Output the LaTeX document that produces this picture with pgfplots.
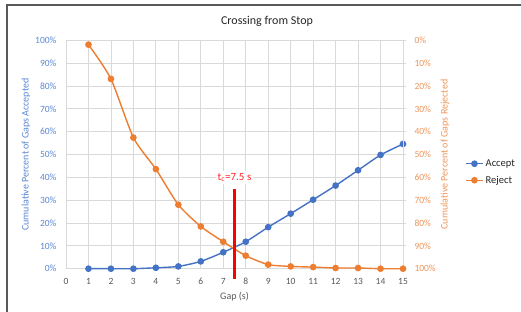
\documentclass[border=0pt]{standalone}
\usepackage{fontspec}
\setmainfont{Carlito}
\usepackage{pgfplots}
\pgfplotsset{compat=1.18}
\definecolor{accB}{HTML}{4472C4}
\definecolor{rejO}{HTML}{ED7D31}
\definecolor{tickB}{HTML}{5B88D4}
\definecolor{tickO}{HTML}{F0955A}
\definecolor{gridG}{HTML}{D9D9D9}
\definecolor{txtG}{HTML}{595959}
\begin{document}
\begin{tikzpicture}
\useasboundingbox (0pt,0pt) rectangle (521pt,312pt);
\fill[white] (0pt,0pt) rectangle (521pt,312pt);
\draw[line width=1.2pt, black!65] (7pt,-5pt) rectangle (530pt,307pt);
\node[font=\fontsize{12}{14}\selectfont, text=black!85] at (267pt,291pt) {Crossing from Stop};
\begin{axis}[
  at={(66pt,43.3pt)}, anchor=south west,
  scale only axis, width=337pt, height=228.4pt,
  xmin=0, xmax=15, ymin=0, ymax=100,
  xtick={0,1,...,15}, ytick={0,10,...,100},
  yticklabels={0\%,10\%,20\%,30\%,40\%,50\%,60\%,70\%,80\%,90\%,100\%},
  /pgf/number format/assume math mode=true,
  grid=major, major grid style={gridG, line width=0.8pt},
  axis line style={draw=none},
  tick style={draw=none},
  axis y line*=left,
  axis x line*=bottom,
  x tick label style={font=\fontsize{9.5}{11}\selectfont, text=txtG, anchor=center, yshift=-13pt},
  y tick label style={font=\fontsize{9.5}{11}\selectfont, text=tickB, anchor=east, xshift=-6pt},
  xlabel={Gap (s)}, xlabel style={font=\fontsize{10}{12}\selectfont, text=txtG, at={(rel axis cs:0.5,0)}, anchor=center, yshift=-28pt},
  ylabel={Cumulative Percent of Gaps Accepted},
  ylabel style={font=\fontsize{10}{12}\selectfont, text=tickB, at={(rel axis cs:0,0.5)}, anchor=center, yshift=40pt},
  clip=false,
]
\addplot[accB, line width=1.4pt, smooth, tension=0.4, mark=*, mark size=2.6pt, mark options={fill=accB, draw=accB}]
coordinates {(1,0) (2,0) (3,0) (4,0.4) (5,1.0) (6,3.2) (7,7.2) (8,11.8) (9,18.2) (10,24.1) (11,30.2) (12,36.4) (13,43.1) (14,49.8) (15,54.6)};
\end{axis}
\begin{axis}[
  at={(66pt,43.3pt)}, anchor=south west,
  scale only axis, width=337pt, height=228.4pt,
  xmin=0, xmax=15, ymin=0, ymax=100,
  y dir=reverse,
  axis x line=none,
  axis y line*=right,
  axis line style={draw=gridG, line width=0.8pt},
  ytick={0,10,...,100},
  yticklabels={0\%,10\%,20\%,30\%,40\%,50\%,60\%,70\%,80\%,90\%,100\%},
  /pgf/number format/assume math mode=true,
  tick align=outside, major tick length=3pt,
  tick style={gridG, line width=0.8pt},
  y tick label style={font=\fontsize{9.5}{11}\selectfont, text=tickO, anchor=west, xshift=5pt},
  ylabel={Cumulative Percent of Gaps Rejected},
  ylabel style={font=\fontsize{10}{12}\selectfont, text=tickO, at={(rel axis cs:1,0.5)}, anchor=center, yshift=-42pt},
  clip=false,
  legend style={at={(1.184,0.423)}, anchor=west, draw=none, fill=none,
    font=\fontsize{10.5}{12}\selectfont, text=black!85, row sep=4pt,
    inner sep=0pt},
  legend cell align=left,
]
\addlegendimage{accB, line width=1.4pt, mark=*, mark size=2.6pt, mark options={fill=accB, draw=accB}}
\addlegendentry{Accept}
\addplot[rejO, line width=1.4pt, smooth, tension=0.4, mark=*, mark size=2.6pt, mark options={fill=rejO, draw=rejO}]
coordinates {(1,1.9) (2,16.9) (3,42.6) (4,56.4) (5,72.0) (6,81.5) (7,88.2) (8,94.3) (9,98.2) (10,99.0) (11,99.3) (12,99.7) (13,99.7) (14,100) (15,100)};
\addlegendentry{Reject}
\addplot[red, line width=2.2pt, forget plot] coordinates {(7.5,104.5) (7.5,65)};
\node[fill=white, text=red!85, font=\fontsize{11}{12}\selectfont, inner sep=2pt] at (axis cs:7.5,60.1) {t\textsubscript{c}=7.5 s};
\end{axis}
\end{tikzpicture}
\end{document}
